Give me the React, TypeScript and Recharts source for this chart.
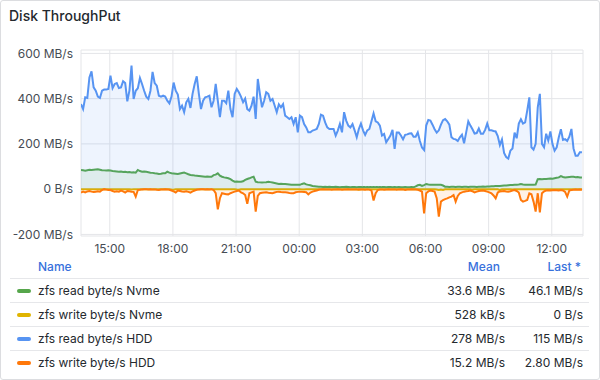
import React from 'react';
import { ComposedChart, Area, XAxis, YAxis, CartesianGrid } from 'recharts';

// time axis in minutes from 00:00 of the first day; samples every 6 minutes starting 13:38
const START_MIN = 818;
const STEP_MIN = 6;
const X_DOMAIN = [818, 2249];
const X_TICKS = [900, 1080, 1260, 1440, 1620, 1800, 1980, 2160];
const Y_DOMAIN = [-207, 615];
const Y_TICKS = [-200, 0, 200, 400, 600];

// zfs read byte/s Nvme (MB/s)
const nvmeRead = [
  85, 84, 82, 84, 86, 85, 86, 87, 88, 86,
  84, 83, 82, 83, 82, 80, 79, 78, 77, 78,
  76, 77, 75, 76, 74, 75, 73, 85, 80, 77,
  78, 77, 75, 73, 72, 70, 69, 67, 68, 70,
  70, 77, 73, 70, 69, 68, 67, 69, 71, 73,
  70, 66, 63, 62, 60, 59, 58, 57, 56, 55,
  56, 55, 55, 62, 64, 70, 60, 55, 52, 50,
  48, 44, 38, 33, 34, 33, 33, 35, 41, 45,
  48, 52, 55, 33, 31, 30, 29, 30, 31, 33,
  31, 29, 27, 25, 23, 24, 23, 23, 22, 21,
  20, 19, 20, 19, 19, 23, 26, 21, 19, 17,
  14, 13, 12, 11, 11, 10, 11, 10, 11, 10,
  10, 11, 10, 9, 10, 10, 11, 10, 9, 10,
  10, 9, 10, 10, 9, 9, 10, 9, 9, 10,
  9, 9, 10, 9, 9, 8, 9, 9, 8, 9,
  8, 9, 8, 8, 9, 8, 8, 9, 8, 12,
  17, 19, 14, 18, 23, 21, 20, 19, 19, 20,
  19, 19, 16, 11, 11, 10, 11, 11, 10, 11,
  11, 10, 11, 11, 10, 11, 11, 11, 10, 11,
  11, 12, 11, 12, 12, 13, 13, 14, 14, 14,
  15, 16, 16, 17, 18, 18, 19, 20, 21, 23,
  21, 20, 19, 20, 19, 19, 20, 44, 45, 44,
  45, 45, 46, 47, 46, 48, 50, 52, 58, 54,
  52, 53, 54, 55, 55, 53, 54, 52, 52,
];

// zfs write byte/s Nvme (MB/s, drawn below zero)
const nvmeWrite = [
  0.6, 0.5, 0.7, 0.6, 0.5, 0.8, 0.6, 0.5, 0.6, 0.7,
  0.5, 0.6, 0.9, 0.7, 0.6, 0.5, 0.6, 0.8, 0.7, 0.6,
  0.5, 0.7, 0.6, 0.6, 1.2, 0.8, 0.6, 0.5, 0.6, 0.7,
  0.6, 0.5, 0.6, 0.7, 0.6, 0.5, 0.7, 0.6, 0.5, 0.6,
  0.7, 0.6, 0.5, 1.8, 2.5, 0.9, 0.6, 0.5, 0.6, 0.7,
  0.5, 0.6, 0.7, 0.6, 0.5, 0.6, 0.6, 0.7, 0.5, 0.6,
  0.8, 0.6, 0.5, 0.7, 0.6, 0.5, 0.6, 0.7, 0.6, 0.5,
  0.6, 0.7, 0.5, 0.6, 2.0, 3.0, 0.8, 0.6, 0.5, 0.6,
  0.7, 0.6, 0.5, 0.6, 0.7, 0.6, 0.5, 0.6, 0.7, 0.5,
  0.6, 0.5, 0.6, 0.7, 0.6, 0.5, 0.6, 0.7, 0.6, 0.5,
  0.6, 0.7, 0.5, 0.6, 0.6, 1.5, 2.0, 0.7, 0.5, 0.6,
  0.4, 0.5, 0.4, 0.3, 0.4, 0.5, 0.4, 0.3, 0.4, 0.4,
  0.3, 0.4, 0.5, 0.4, 0.3, 0.4, 0.4, 0.3, 0.4, 0.5,
  0.4, 0.3, 2.5, 0.4, 0.3, 0.4, 0.5, 0.4, 0.3, 0.4,
  0.4, 0.3, 0.4, 0.5, 0.4, 0.3, 0.4, 0.4, 0.3, 0.4,
  0.5, 0.4, 0.3, 0.4, 0.4, 0.3, 0.4, 0.5, 0.4, 0.3,
  0.4, 0.5, 0.6, 0.8, 0.5, 0.4, 0.5, 0.6, 0.5, 1.5,
  4.0, 1.2, 3.5, 0.8, 0.6, 0.5, 0.6, 0.5, 0.6, 0.7,
  0.5, 0.6, 0.5, 0.6, 0.7, 0.5, 2.0, 0.6, 0.5, 0.6,
  0.5, 0.6, 0.7, 0.5, 0.6, 0.5, 0.6, 0.7, 0.5, 4.0,
  0.8, 0.6, 0.5, 0.6, 0.7, 1.8, 0.6, 0.5, 0.6, 0.5,
  0.4, 0.5, 0.4, 0.3, 0.4, 0.5, 0.4, 0.3, 0.4, 0.4,
  0.3, 0.4, 0.5, 0.4, 0.3, 0.4, 0.3, 0.2, 0.1, 0.0,
  0.0, 0.0, 0.0, 0.0, 0.0, 0.0, 0.0, 0.0, 0.0,
];

// zfs read byte/s HDD (MB/s)
const hddRead = [
  376, 354, 406, 403, 494, 521, 450, 435, 409, 403,
  435, 440, 440, 443, 502, 447, 465, 469, 447, 450,
  477, 469, 388, 435, 546, 399, 435, 446, 491, 465,
  435, 409, 399, 435, 518, 469, 457, 413, 409, 413,
  409, 391, 379, 409, 471, 435, 418, 354, 369, 340,
  384, 399, 359, 421, 465, 499, 421, 354, 391, 406,
  409, 413, 362, 391, 465, 391, 318, 391, 391, 380,
  435, 354, 318, 421, 443, 428, 409, 384, 400, 354,
  347, 369, 409, 310, 487, 421, 362, 391, 428, 421,
  391, 399, 370, 340, 375, 362, 376, 325, 318, 310,
  318, 288, 318, 251, 325, 318, 288, 273, 251, 251,
  259, 262, 266, 288, 329, 325, 295, 273, 266, 266,
  266, 237, 259, 288, 251, 340, 303, 281, 273, 288,
  260, 229, 266, 290, 260, 240, 260, 266, 300, 335,
  300, 295, 281, 237, 244, 207, 222, 237, 262, 178,
  250, 250, 237, 220, 240, 242, 246, 247, 232, 232,
  251, 213, 184, 173, 281, 306, 303, 285, 265, 250,
  260, 285, 305, 310, 300, 285, 230, 222, 220, 213,
  229, 241, 203, 251, 300, 281, 265, 246, 248, 268,
  245, 245, 262, 290, 260, 260, 257, 255, 235, 195,
  220, 160, 142, 135, 170, 180, 250, 225, 290, 309,
  290, 295, 347, 406, 185, 175, 200, 362, 421, 200,
  185, 245, 215, 255, 200, 170, 185, 229, 265, 218,
  221, 213, 232, 266, 180, 148, 148, 163, 163,
];

// zfs write byte/s HDD (MB/s, drawn below zero)
const hddWrite = [
  15, 11, 14, 10, 8, 11, 13, 11, 9, 11,
  4, 0, 2, 4, 4, 8, 11, 9, 11, 6,
  10, 15, 8, 9, 11, 12, 33, 4, 3, 1,
  0, 0, 1, 0, 2, 1, 3, 4, 2, 1,
  0, 1, 3, 6, 10, 15, 6, 8, 10, 11,
  9, 12, 15, 10, 6, 3, 1, 0, 0, 1,
  0, 1, 0, 4, 18, 89, 40, 18, 20, 22,
  23, 18, 14, 11, 8, 6, 14, 18, 26, 65,
  18, 14, 11, 99, 30, 18, 16, 15, 14, 16,
  17, 18, 15, 12, 11, 13, 14, 14, 15, 17,
  18, 18, 14, 12, 11, 12, 13, 14, 23, 15,
  11, 8, 6, 3, 1, 0, 1, 2, 1, 3,
  2, 1, 0, 1, 3, 2, 1, 0, 2, 1,
  1, 2, 0, 1, 2, 3, 1, 2, 6, 50,
  18, 4, 2, 1, 3, 2, 0, 1, 2, 1,
  3, 1, 0, 1, 4, 2, 1, 0, 1, 2,
  3, 6, 11, 107, 18, 10, 6, 8, 11, 40,
  121, 55, 48, 44, 41, 36, 33, 26, 55, 30,
  18, 14, 11, 9, 8, 6, 10, 14, 11, 8,
  7, 6, 8, 11, 14, 18, 28, 41, 15, 10,
  9, 8, 10, 11, 9, 6, 4, 8, 15, 48,
  55, 52, 48, 18, 22, 55, 99, 18, 103, 18,
  10, 6, 5, 6, 5, 4, 5, 6, 4, 6,
  12, 33, 6, 4, 3, 2, 3, 2, 3,
];

const SERIES_NAMES = ['zfs read byte/s Nvme', 'zfs write byte/s Nvme', 'zfs read byte/s HDD', 'zfs write byte/s HDD'];
const SERIES_COLORS = ['#56A64B', '#E0B400', '#5794F2', '#FF780A'];
const SERIES_MEANS = ['33.6 MB/s', '528 kB/s', '278 MB/s', '15.2 MB/s'];
const SERIES_LASTS = ['46.1 MB/s', '0 B/s', '115 MB/s', '2.80 MB/s'];
const SERIES_KEYS = ['nr', 'nw', 'hr', 'hw'];

const rows = hddRead.map((v, i) => ({
  t: START_MIN + STEP_MIN * i,
  nr: nvmeRead[i],
  nw: -nvmeWrite[i],
  hr: v,
  hw: -hddWrite[i],
}));

const pad = (n: number) => (n < 10 ? '0' + n : '' + n);
const fmtTime = (m: number) => `${pad(Math.floor(m / 60) % 24)}:${pad(m % 60)}`;
const fmtY = (v: number) => (v === 0 ? '0 B/s' : `${v} MB/s`);

const FONT = 'Inter, "Noto Sans", sans-serif';
const tickStyle = { fill: '#464c54', fontSize: 12, fontFamily: FONT };

export default function App() {
  return (
    <div
      style={{
        position: 'fixed',
        left: 0,
        top: 0,
        width: 600,
        height: 380,
        background: '#ffffff',
        border: '1px solid #dcdde0',
        borderRadius: 3,
        boxSizing: 'border-box',
        fontFamily: FONT,
        overflow: 'hidden',
      }}
    >
      <div style={{ position: 'absolute', left: -1, top: -1, width: 600, height: 380 }}>
        <div
          style={{
            position: 'absolute',
            left: 9,
            top: 7,
            fontSize: 14,
            fontWeight: 500,
            lineHeight: '18px',
            color: '#24292e',
            whiteSpace: 'nowrap',
          }}
        >
          Disk ThroughPut
        </div>
        <div style={{ position: 'absolute', left: 0, top: 0 }}>
          <ComposedChart width={600} height={260} data={rows} margin={{ top: 50, right: 17, bottom: 0, left: 0 }}>
            <CartesianGrid stroke="#e4e5e8" strokeWidth={1} />
            <XAxis
              dataKey="t"
              type="number"
              domain={X_DOMAIN}
              ticks={X_TICKS}
              allowDataOverflow
              tickFormatter={fmtTime}
              axisLine={false}
              tickLine={false}
              height={24}
              tick={tickStyle}
              interval={0}
            />
            <YAxis
              type="number"
              domain={Y_DOMAIN}
              ticks={Y_TICKS}
              allowDataOverflow
              tickFormatter={fmtY}
              axisLine={false}
              tickLine={false}
              width={81}
              tick={tickStyle}
              interval={0}
            />
            {SERIES_KEYS.map((k, i) => (
              <Area
                key={k}
                dataKey={k}
                type="linear"
                stroke={SERIES_COLORS[i]}
                strokeWidth={2}
                fill={SERIES_COLORS[i]}
                fillOpacity={0.1}
                baseValue={0}
                dot={false}
                activeDot={false}
                isAnimationActive={false}
              />
            ))}
          </ComposedChart>
        </div>
        {/* legend table */}
        <div
          style={{
            position: 'absolute',
            left: 38,
            top: 258,
            height: 17,
            lineHeight: '17px',
            fontSize: 12,
            fontWeight: 500,
            color: '#3871dc',
          }}
        >
          Name
        </div>
        <div
          style={{
            position: 'absolute',
            right: 100,
            top: 258,
            height: 17,
            lineHeight: '17px',
            fontSize: 12,
            fontWeight: 500,
            color: '#3871dc',
          }}
        >
          Mean
        </div>
        <div
          style={{
            position: 'absolute',
            right: 19,
            top: 258,
            height: 17,
            lineHeight: '17px',
            fontSize: 12,
            fontWeight: 500,
            color: '#3871dc',
          }}
        >
          Last *
        </div>
        {SERIES_NAMES.map((name, i) => (
          <div
            key={name}
            style={{
              position: 'absolute',
              left: 10,
              width: 579,
              top: 278 + 24 * i,
              height: 24,
              borderTop: '1px solid #e6e7ea',
              boxSizing: 'border-box',
              fontSize: 12,
              color: '#24292e',
            }}
          >
            <div
              style={{
                position: 'absolute',
                left: 7,
                top: 10,
                width: 14,
                height: 4,
                borderRadius: 2,
                background: SERIES_COLORS[i],
              }}
            />
            <div style={{ position: 'absolute', left: 28, top: 3, lineHeight: '17px', whiteSpace: 'nowrap' }}>{name}</div>
            <div style={{ position: 'absolute', right: 84, top: 3, lineHeight: '17px', whiteSpace: 'nowrap' }}>
              {SERIES_MEANS[i]}
            </div>
            <div style={{ position: 'absolute', right: 6, top: 3, lineHeight: '17px', whiteSpace: 'nowrap' }}>
              {SERIES_LASTS[i]}
            </div>
          </div>
        ))}
      </div>
    </div>
  );
}
